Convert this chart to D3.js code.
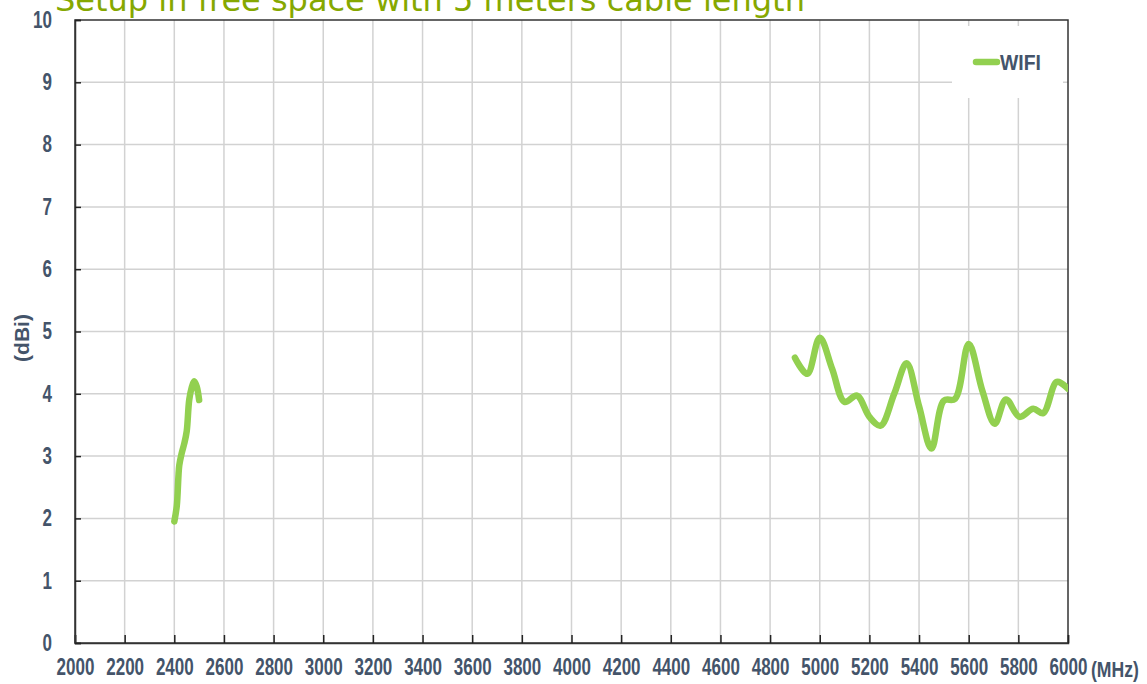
<!DOCTYPE html>
<html>
<head>
<meta charset="utf-8">
<script src="https://cdn.jsdelivr.net/npm/d3@7"></script>
<style>
  body { margin: 0; background: #fff; }
  .tick-label { font-family: "Liberation Sans Narrow", "Arial Narrow", "Liberation Sans", sans-serif; font-weight: bold; fill: #44546a; }
</style>
</head>
<body>
<div id="chart"></div>
<script>
// data
const band24Freq = [2400, 2410, 2420, 2430, 2440, 2450, 2460, 2470, 2480, 2490, 2500];
const band24Gain = [1.95, 2.2, 2.85, 3.05, 3.2, 3.4, 3.9, 4.1, 4.2, 4.12, 3.9];
const band5Freq = [4900, 4950, 5000, 5050, 5100, 5150, 5200, 5245, 5300, 5350, 5400, 5450, 5500, 5545, 5600, 5655, 5705, 5750, 5805, 5860, 5900, 5955, 6000];
const band5Gain = [4.58, 4.32, 4.9, 4.4, 3.87, 3.97, 3.63, 3.49, 4.0, 4.49, 3.8, 3.12, 3.89, 3.92, 4.8, 4.05, 3.52, 3.91, 3.63, 3.76, 3.69, 4.19, 4.08];
const xTicks = d3.range(2000, 6001, 200);
const yTicks = d3.range(0, 11, 1);
const seriesName = 'WIFI';
const titleText = 'Setup in free space with 5 meters cable length';

const width = 1147, height = 684;
const margin = { top: 20, right: 79, bottom: 41, left: 75 };
const innerW = width - margin.left - margin.right;
const innerH = height - margin.top - margin.bottom;

const svg = d3.select('#chart').append('svg')
    .attr('width', width)
    .attr('height', height);

const x = d3.scaleLinear().domain([2000, 6000]).range([0, innerW]);
const y = d3.scaleLinear().domain([0, 10]).range([innerH, 0]);

const g = svg.append('g')
    .attr('transform', `translate(${margin.left},${margin.top})`);

// gridlines
g.selectAll('.vgrid')
    .data(xTicks.slice(1, -1))
    .join('line')
    .attr('x1', d => x(d)).attr('x2', d => x(d))
    .attr('y1', 0).attr('y2', innerH)
    .attr('stroke', '#d2d2d2').attr('stroke-width', 1.5);

g.selectAll('.hgrid')
    .data(yTicks.slice(1, -1))
    .join('line')
    .attr('x1', 0).attr('x2', innerW)
    .attr('y1', d => y(d)).attr('y2', d => y(d))
    .attr('stroke', '#d2d2d2').attr('stroke-width', 1.5);

// legend box hides the grid behind it
const legend = g.append('g');
legend.append('rect')
    .attr('x', 877).attr('y', 6)
    .attr('width', 111).attr('height', 72)
    .attr('fill', '#fff');

// frame
g.append('rect')
    .attr('width', innerW).attr('height', innerH)
    .attr('fill', 'none')
    .attr('stroke', '#333').attr('stroke-width', 1.5);

// axes with inward ticks
const xAxis = d3.axisBottom(x).tickValues(xTicks).tickSize(-8).tickFormat(d3.format('d'));
const yAxis = d3.axisLeft(y).tickValues(yTicks).tickSize(-6);

const xAxisG = g.append('g')
    .attr('transform', `translate(0,${innerH})`)
    .call(xAxis);
const yAxisG = g.append('g').call(yAxis);

// narrow bold look: squeeze the bold face horizontally
const sx = 0.74;

[xAxisG, yAxisG].forEach(a => {
    a.select('.domain').attr('stroke', '#333').attr('stroke-width', 1.5);
    a.selectAll('.tick line').attr('stroke', '#222').attr('stroke-width', 1.5);
    a.selectAll('.tick text')
        .attr('class', 'tick-label')
        .attr('font-size', null)
        .style('font-size', '23px');
});
yAxisG.selectAll('.tick text')
    .attr('x', -23 / sx)
    .attr('transform', `scale(${sx},1)`);
xAxisG.selectAll('.tick text')
    .attr('y', 16)
    .attr('transform', `scale(${sx},1)`);

// unit labels
svg.append('text')
    .attr('class', 'tick-label')
    .attr('transform', 'translate(1091,677) scale(0.8,1)')
    .style('font-size', '22px')
    .text('(MHz)');

svg.append('text')
    .attr('class', 'tick-label')
    .attr('transform', 'translate(29,338) rotate(-90)')
    .attr('text-anchor', 'middle')
    .style('font-size', '21px')
    .text('(dBi)');

// series
const line = d3.line()
    .x(d => x(d[0]))
    .y(d => y(d[1]))
    .curve(d3.curveCatmullRom.alpha(0.5));

svg.append('clipPath').attr('id', 'plot-clip')
    .append('rect').attr('x', -10).attr('y', -10).attr('width', innerW + 10).attr('height', innerH + 20);

[[band24Freq, band24Gain], [band5Freq, band5Gain]].forEach(([fs, gs]) => {
    g.append('path')
        .datum(fs.map((f, i) => [f, gs[i]]))
        .attr('clip-path', 'url(#plot-clip)')
        .attr('fill', 'none')
        .attr('stroke', '#92d050')
        .attr('stroke-width', 6.5)
        .attr('stroke-linecap', 'round')
        .attr('stroke-linejoin', 'round')
        .attr('d', line);
});

// legend
legend.append('line')
    .attr('x1', 901).attr('x2', 922)
    .attr('y1', 42).attr('y2', 42)
    .attr('stroke', '#92d050').attr('stroke-width', 6.5)
    .attr('stroke-linecap', 'round');
legend.append('text')
    .attr('class', 'tick-label')
    .attr('transform', 'translate(925,50) scale(0.88,1)')
    .style('font-size', '22px')
    .text(seriesName);

// title, clipped by the top edge of the page
svg.append('text')
    .attr('x', 55).attr('y', 11)
    .attr('fill', '#86a800')
    .style('font-family', '"DejaVu Sans", Verdana, sans-serif')
    .style('font-size', '32px')
    .text(titleText);
</script>
</body>
</html>
